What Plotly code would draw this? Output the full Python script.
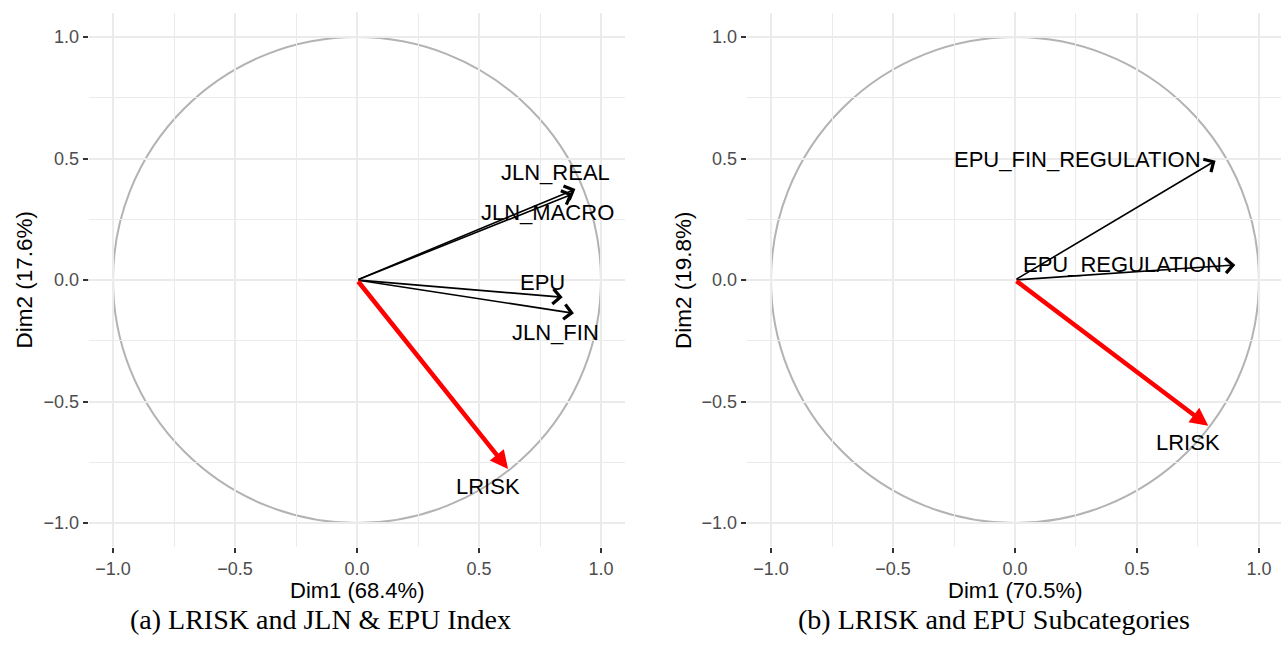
import plotly.graph_objects as go

# ---------------- data ----------------
vars_a = ["JLN_REAL", "JLN_MACRO", "EPU", "JLN_FIN", "LRISK"]
dim1_a = [0.895, 0.884, 0.843, 0.889, 0.619]
dim2_a = [0.374, 0.354, -0.071, -0.137, -0.778]

vars_b = ["EPU_FIN_REGULATION", "EPU_REGULATION", "LRISK"]
dim1_b = [0.822, 0.903, 0.792]
dim2_b = [0.491, 0.062, -0.600]

tick_vals = [-1.0, -0.5, 0.0, 0.5, 1.0]
tick_text = ["\u22121.0", "\u22120.5", "0.0", "0.5", "1.0"]
x_titles = ["Dim1 (68.4%)", "Dim1 (70.5%)"]
y_titles = ["Dim2 (17.6%)", "Dim2 (19.8%)"]
captions = ["(a) LRISK and JLN & EPU Index", "(b) LRISK and EPU Subcategories"]
highlight = "LRISK"

# label offsets (pixels) relative to arrow tips
shift_a = [(-20, 17), (-25, -19), (-20, 15), (-18, -19), (-20, -17)]
shift_b = [(-138, 1), (-113, 0), (-20, -17)]

# ---------------- layout geometry ----------------
W, H = 1281, 648
SANS = "Liberation Sans, Arial, sans-serif"
SERIF = "Liberation Serif, Times New Roman, serif"

x1_dom = [88.6 / W, 625.4 / W]
x2_dom = [746.6 / W, 1.0]
y_dom = [(H - 547.3) / H, (H - 12.7) / H]
x1_rng = [-1.1, 1.1]
x2_rng = [-1.1, 1.0902]
y_rng = [-1.1, 1.1]

fig = go.Figure()

panels = [
    (vars_a, dim1_a, dim2_a, shift_a, "x", "y", x1_rng),
    (vars_b, dim1_b, dim2_b, shift_b, "x2", "y2", x2_rng),
]

annotations = []
shapes = []
for names, d1, d2, shifts, xr, yr, xrng in panels:
    # invisible anchor trace so the axes are drawn
    fig.add_trace(go.Scatter(x=d1, y=d2, mode="markers", xaxis=xr, yaxis=yr,
                             marker=dict(opacity=0), hoverinfo="skip", showlegend=False))
    # correlation circle
    shapes.append(dict(type="circle", xref=xr, yref=yr, x0=-1, y0=-1, x1=1, y1=1,
                       line=dict(color="#b3b3b3", width=2), layer="below"))
    # dashed axes
    shapes.append(dict(type="line", xref=xr, yref=yr, x0=0, x1=0, y0=y_rng[0], y1=y_rng[1],
                       line=dict(color="black", width=2, dash="7px,5px"), layer="below"))
    shapes.append(dict(type="line", xref=xr, yref=yr, x0=xrng[0], x1=xrng[1], y0=0, y1=0,
                       line=dict(color="black", width=2, dash="7px,5px"), layer="below"))
    for name, vx, vy, (dx, dy) in zip(names, d1, d2, shifts):
        is_hl = name == highlight
        annotations.append(dict(
            x=vx, y=vy, ax=0, ay=0, xref=xr, yref=yr, axref=xr, ayref=yr, text="",
            showarrow=True,
            arrowhead=2 if is_hl else 4,
            arrowsize=0.8 if is_hl else 1.8,
            arrowwidth=4.5 if is_hl else 1.6,
            arrowcolor="#ff0000" if is_hl else "black",
            standoff=0, startstandoff=0,
        ))
        annotations.append(dict(
            x=vx, y=vy, xref=xr, yref=yr, text=name, showarrow=False,
            xshift=dx, yshift=dy, xanchor="center", yanchor="middle",
            font=dict(family=SANS, size=22, color="black"),
        ))

# axis titles and captions
x_title_pos = [357 / W, 1015 / W]
y_title_pos = [23.5 / W, 683 / W]
caption_pos = [320 / W, 994 / W]
for i in range(2):
    annotations.append(dict(x=x_title_pos[i], y=(H - 590) / H, xref="paper", yref="paper",
                            text=x_titles[i], showarrow=False, xanchor="center", yanchor="middle",
                            font=dict(family=SANS, size=22, color="black")))
    annotations.append(dict(x=y_title_pos[i], y=(H - 280) / H, xref="paper", yref="paper",
                            text=y_titles[i], showarrow=False, textangle=-90,
                            xanchor="center", yanchor="middle",
                            font=dict(family=SANS, size=22.5, color="black")))
    annotations.append(dict(x=caption_pos[i], y=(H - 619) / H, xref="paper", yref="paper",
                            text=captions[i], showarrow=False, xanchor="center", yanchor="middle",
                            font=dict(family=SERIF, size=28, color="black")))

axis_common = dict(
    tickvals=tick_vals, ticktext=tick_text,
    showgrid=True, gridcolor="#ebebeb", gridwidth=2,
    minor=dict(dtick=0.25, tick0=0, showgrid=True, gridcolor="#ebebeb", gridwidth=1.2),
    zeroline=False, showline=False,
    ticks="outside", ticklen=5, tickwidth=2, tickcolor="#333333",
    tickfont=dict(family=SANS, size=18, color="#4d4d4d"),
    fixedrange=True,
)

fig.update_layout(
    width=W, height=H,
    margin=dict(l=0, r=0, t=0, b=0),
    paper_bgcolor="white", plot_bgcolor="white",
    showlegend=False,
    xaxis=dict(domain=x1_dom, range=x1_rng, anchor="y", **axis_common),
    yaxis=dict(domain=y_dom, range=y_rng, anchor="x", **axis_common),
    xaxis2=dict(domain=x2_dom, range=x2_rng, anchor="y2", **axis_common),
    yaxis2=dict(domain=y_dom, range=y_rng, anchor="x2", **axis_common),
    shapes=shapes,
    annotations=annotations,
)

fig.write_html("out.html")
